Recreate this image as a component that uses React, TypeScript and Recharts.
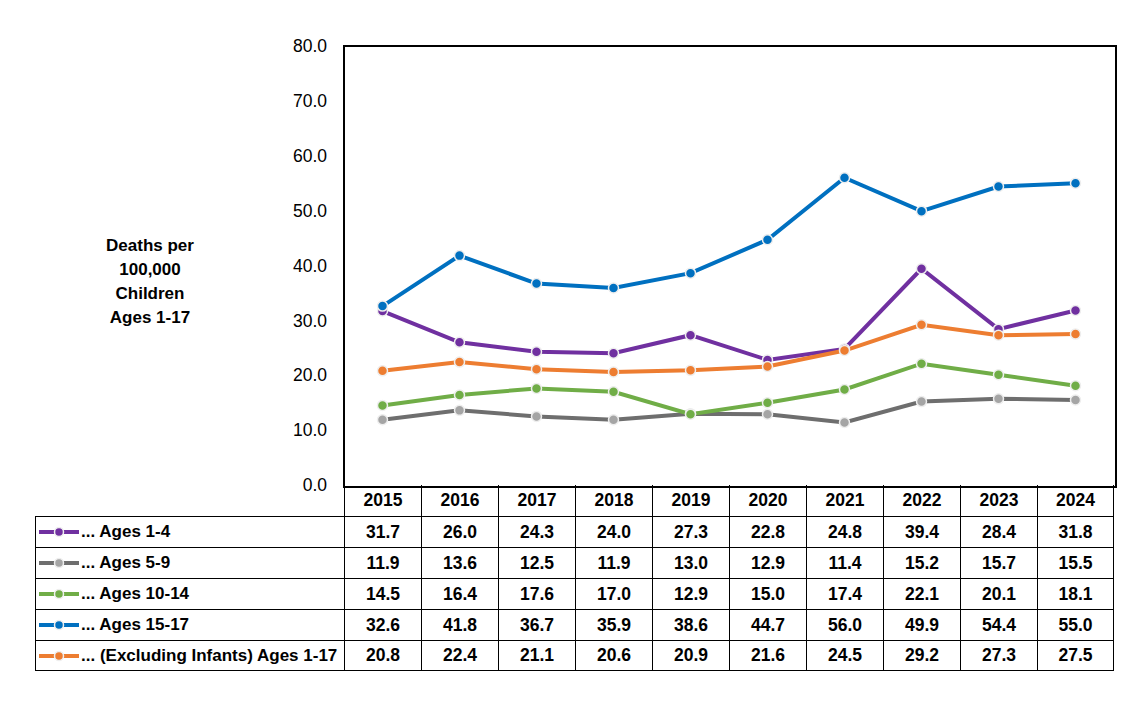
import { LineChart, Line, XAxis, YAxis } from "recharts";

const years = ["2015", "2016", "2017", "2018", "2019", "2020", "2021", "2022", "2023", "2024"];
const ages1to4 = [31.7, 26.0, 24.3, 24.0, 27.3, 22.8, 24.8, 39.4, 28.4, 31.8];
const ages5to9 = [11.9, 13.6, 12.5, 11.9, 13.0, 12.9, 11.4, 15.2, 15.7, 15.5];
const ages10to14 = [14.5, 16.4, 17.6, 17.0, 12.9, 15.0, 17.4, 22.1, 20.1, 18.1];
const ages15to17 = [32.6, 41.8, 36.7, 35.9, 38.6, 44.7, 56.0, 49.9, 54.4, 55.0];
const ages1to17 = [20.8, 22.4, 21.1, 20.6, 20.9, 21.6, 24.5, 29.2, 27.3, 27.5];
const yTicks = [0, 10, 20, 30, 40, 50, 60, 70, 80];

const series = [
  { key: "a", name: "... Ages 1-4", values: ages1to4, line: "#7030A0", dot: "#7030A0" },
  { key: "b", name: "... Ages 5-9", values: ages5to9, line: "#6E6E6E", dot: "#A5A5A5" },
  { key: "c", name: "... Ages 10-14", values: ages10to14, line: "#70AD47", dot: "#70AD47" },
  { key: "d", name: "... Ages 15-17", values: ages15to17, line: "#0070C0", dot: "#0070C0" },
  { key: "e", name: "... (Excluding Infants) Ages 1-17", values: ages1to17, line: "#ED7D31", dot: "#ED7D31" },
];

const data = years.map((y, i) => {
  const row: Record<string, string | number> = { year: y };
  series.forEach((s) => (row[s.key] = s.values[i]));
  return row;
});

const PLOT_L = 344;
const PLOT_T = 46;
const PLOT_R = 1114;
const PLOT_B = 485;
const COL_W = (PLOT_R - PLOT_L) / years.length;
const ROW_H = 31;

const boldFont = "'Liberation Sans', Arial, sans-serif";

export default function App() {
  return (
    <div style={{ position: "absolute", left: 0, top: 0, width: 1140, height: 707, background: "#fff" }}>
      <LineChart
        width={1140}
        height={707}
        data={data}
        margin={{ top: PLOT_T, right: 1140 - PLOT_R, bottom: 707 - PLOT_B, left: PLOT_L - 70 }}
      >
        <XAxis dataKey="year" hide padding={{ left: COL_W / 2, right: COL_W / 2 }} />
        <YAxis
          width={70}
          domain={[0, 80]}
          ticks={yTicks}
          interval={0}
          axisLine={false}
          tickLine={false}
          tickSize={0}
          tickMargin={17}
          tickFormatter={(v: number) => v.toFixed(1)}
          tick={{ fill: "#000", fontSize: 17.5, fontFamily: "'Liberation Sans', Arial, sans-serif" }}
        />
        {series.map((s) => (
          <Line
            key={s.key}
            dataKey={s.key}
            name={s.name}
            stroke={s.line}
            strokeWidth={4}
            isAnimationActive={false}
            dot={{ r: 5, fill: s.dot, stroke: "#eeeeee", strokeWidth: 1.5 }}
            activeDot={false}
          />
        ))}
      </LineChart>

      {/* plot frame */}
      <div
        style={{
          position: "absolute",
          left: PLOT_L - 1,
          top: PLOT_T - 1,
          width: PLOT_R - PLOT_L,
          height: PLOT_B - PLOT_T,
          border: "2px solid #000",
          pointerEvents: "none",
        }}
      />

      {/* axis title */}
      <div
        style={{
          position: "absolute",
          left: 85,
          top: 234,
          width: 130,
          textAlign: "center",
          fontFamily: boldFont,
          fontWeight: "bold",
          fontSize: 17,
          lineHeight: "24px",
        }}
      >
        Deaths per
        <br />
        100,000
        <br />
        Children
        <br />
        Ages 1-17
      </div>

      {/* data table header */}
      {years.map((y, i) => (
        <div
          key={y}
          style={{
            position: "absolute",
            left: PLOT_L + i * COL_W,
            top: PLOT_B,
            width: COL_W,
            height: ROW_H,
            boxSizing: "border-box",
            borderLeft: "1px solid #000",
            borderRight: i === years.length - 1 ? "1.5px solid #000" : undefined,
            display: "flex",
            alignItems: "center",
            justifyContent: "center",
            fontFamily: boldFont,
            fontWeight: "bold",
            fontSize: 17.5,
          }}
        >
          {y}
        </div>
      ))}

      {/* data table rows */}
      {series.map((s, r) => (
        <div key={s.key}>
          <div
            style={{
              position: "absolute",
              left: 35,
              top: PLOT_B + ROW_H * (r + 1),
              width: PLOT_L - 35,
              height: ROW_H,
              boxSizing: "border-box",
              borderLeft: "1px solid #000",
              borderTop: "1px solid #000",
              borderBottom: r === series.length - 1 ? "1px solid #000" : undefined,
              display: "flex",
              alignItems: "center",
              fontFamily: boldFont,
              fontWeight: "bold",
              fontSize: 17,
              whiteSpace: "nowrap",
            }}
          >
            <svg width={42} height={14} style={{ marginLeft: 2, marginRight: 1 }}>
              <line x1={1} y1={7} x2={41} y2={7} stroke={s.line} strokeWidth={4} />
              <circle cx={21} cy={7} r={4.5} fill={s.dot} stroke="#eeeeee" strokeWidth={1.5} />
            </svg>
            {s.name}
          </div>
          {s.values.map((v, i) => (
            <div
              key={i}
              style={{
                position: "absolute",
                left: PLOT_L + i * COL_W,
                top: PLOT_B + ROW_H * (r + 1),
                width: COL_W,
                height: ROW_H,
                boxSizing: "border-box",
                borderLeft: "1px solid #000",
                borderTop: "1px solid #000",
                borderRight: i === years.length - 1 ? "1.5px solid #000" : undefined,
                borderBottom: r === series.length - 1 ? "1px solid #000" : undefined,
                display: "flex",
                alignItems: "center",
                justifyContent: "center",
                fontFamily: boldFont,
                fontWeight: "bold",
                fontSize: 17.5,
              }}
            >
              {v.toFixed(1)}
            </div>
          ))}
        </div>
      ))}
    </div>
  );
}
